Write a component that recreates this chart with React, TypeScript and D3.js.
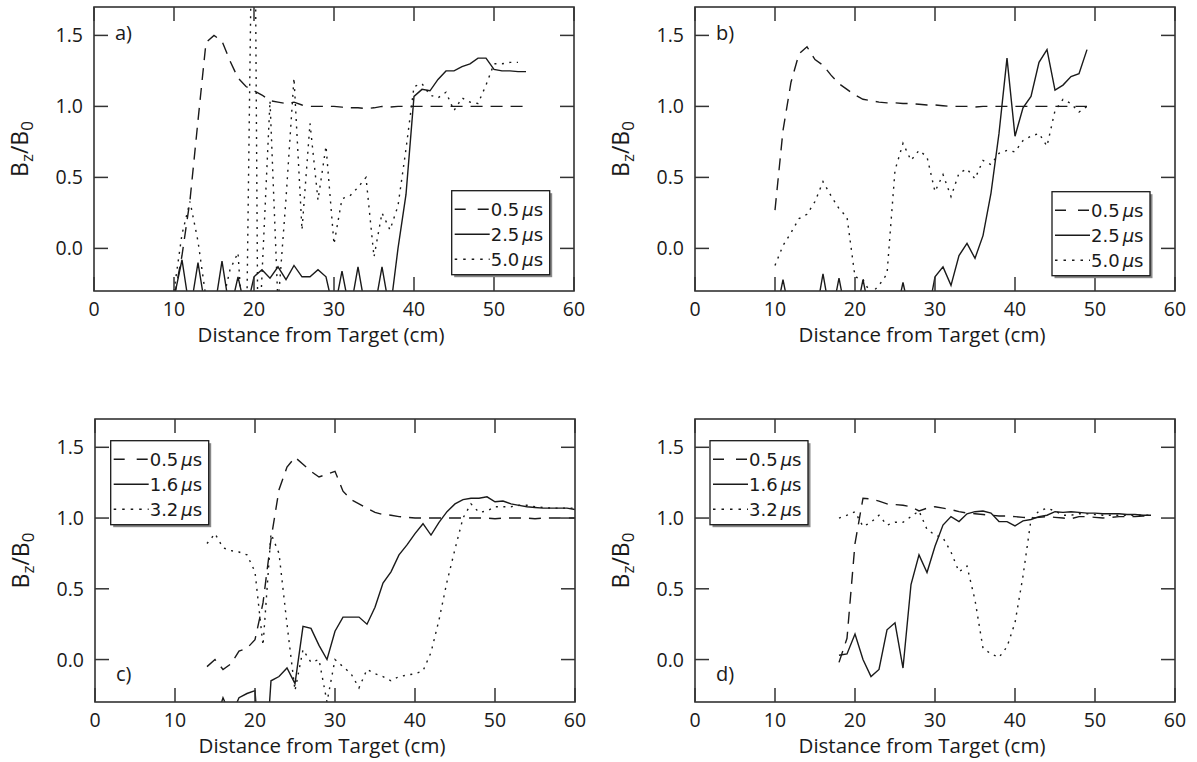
import React from 'react';
import * as d3 from 'd3';

type Pt = [number, number];

// ---------- axes / labels ----------
const xTicks = [0, 10, 20, 30, 40, 50, 60];
const yTicks = [0, 0.5, 1.0, 1.5];
const xDomain: Pt = [0, 60];
const yDomain: Pt = [-0.3, 1.7];
const xTitle = 'Distance from Target (cm)';
const panelLetters = ['a)', 'b)', 'c)', 'd)'];
const legendTimesTop = ['0.5', '2.5', '5.0'];
const legendTimesBottom = ['0.5', '1.6', '3.2'];

// ---------- panel a ----------
const a05: Pt[] = [
  [10, -0.35], [11, -0.05], [12, 0.34], [13, 0.9], [14, 1.45], [15, 1.5], [16, 1.46], [17, 1.32],
  [18, 1.2], [19, 1.14], [20, 1.11], [21, 1.08], [22, 1.04], [23, 1.03], [24, 1.02], [25, 1.03],
  [26, 1.01], [27, 1.0], [28, 1.0], [29, 1.0], [30, 1.0], [31, 0.995], [32, 0.99], [33, 0.99],
  [34, 0.985], [35, 0.99], [36, 1.0], [37, 0.995], [38, 1.0], [39, 1.0], [40, 1.0], [41, 1.0],
  [42, 1.0], [43, 1.0], [44, 1.0], [45, 1.0], [46, 1.0], [47, 1.0], [48, 1.0], [49, 1.0],
  [50, 1.0], [51, 1.0], [52, 1.0], [53, 1.0], [54, 1.0],
];
const a25: Pt[] = [
  [10, -0.35], [11, -0.08], [12, -0.45], [13, -0.1], [14, -0.45], [15, -0.45], [16, -0.09],
  [17, -0.45], [18, -0.2], [19, -0.45], [20, -0.2], [21, -0.15], [22, -0.21], [23, -0.13],
  [24, -0.22], [25, -0.12], [26, -0.2], [27, -0.2], [28, -0.15], [29, -0.2], [30, -0.45],
  [31, -0.16], [32, -0.45], [33, -0.13], [34, -0.45], [35, -0.45], [36, -0.13], [37, -0.45],
  [38, 0.0], [39, 0.38], [40, 1.07], [41, 1.12], [42, 1.11], [43, 1.19], [44, 1.25], [45, 1.25],
  [46, 1.28], [47, 1.3], [48, 1.34], [49, 1.34], [50, 1.26], [51, 1.25], [52, 1.25], [53, 1.245],
  [54, 1.245],
];
const a50: Pt[] = [
  [10, -0.3], [11, 0.1], [12, 0.33], [13, 0.05], [14, -0.35], [15, -0.5], [16, -0.4], [17, -0.15],
  [18, -0.03], [19, -0.9], [20, 3.5], [20.5, -0.8], [22, 1.04], [23, -0.4], [24, 0.35], [25, 1.2],
  [26, 0.13], [27, 0.88], [28, 0.34], [29, 0.72], [30, 0.03], [31, 0.35], [32, 0.37], [33, 0.43],
  [34, 0.5], [35, -0.06], [36, 0.25], [37, 0.13], [38, 0.3], [39, 0.7], [40, 1.14], [41, 1.16],
  [42, 1.08], [43, 1.06], [44, 1.1], [45, 0.97], [46, 1.06], [47, 1.03], [48, 1.02], [49, 1.15],
  [50, 1.3], [51, 1.3], [52, 1.31], [53, 1.31],
];

// ---------- panel b ----------
const b05: Pt[] = [
  [10, 0.27], [11, 0.83], [12, 1.17], [13, 1.37], [14, 1.42], [15, 1.33], [16, 1.29], [17, 1.22],
  [18, 1.16], [19, 1.12], [20, 1.08], [21, 1.05], [22, 1.04], [23, 1.03], [24, 1.025], [25, 1.025],
  [26, 1.02], [27, 1.02], [28, 1.015], [29, 1.01], [30, 1.01], [31, 1.005], [32, 1.0], [33, 1.0],
  [34, 1.0], [35, 0.995], [36, 1.0], [37, 1.0], [38, 1.0], [39, 1.0], [40, 1.0], [41, 1.0],
  [42, 1.0], [43, 1.0], [44, 1.0], [45, 1.0], [46, 1.0], [47, 1.0], [48, 1.0], [49, 1.0],
];
const b25: Pt[] = [
  [10, -0.5], [11, -0.22], [12, -0.5], [13, -0.5], [14, -0.5], [15, -0.5], [16, -0.18], [17, -0.5],
  [18, -0.21], [19, -0.5], [20, -0.5], [21, -0.22], [22, -0.5], [23, -0.5], [24, -0.5], [25, -0.5],
  [26, -0.24], [27, -0.5], [28, -0.5], [29, -0.5], [30, -0.2], [31, -0.13], [32, -0.26], [33, -0.05],
  [34, 0.035], [35, -0.07], [36, 0.09], [37, 0.39], [38, 0.81], [39, 1.34], [40, 0.79], [41, 0.99],
  [42, 1.07], [43, 1.31], [44, 1.4], [45, 1.115], [46, 1.15], [47, 1.21], [48, 1.23], [49, 1.4],
];
const b50: Pt[] = [
  [10, -0.12], [11, 0.02], [12, 0.11], [13, 0.21], [14, 0.24], [15, 0.33], [16, 0.47], [17, 0.37],
  [18, 0.28], [19, 0.22], [20, -0.2], [21, -0.22], [22, -0.32], [23, -0.26], [24, -0.18], [25, 0.55],
  [26, 0.74], [27, 0.62], [28, 0.69], [29, 0.645], [30, 0.4], [31, 0.52], [32, 0.365], [33, 0.53],
  [34, 0.56], [35, 0.49], [36, 0.62], [37, 0.59], [38, 0.67], [39, 0.69], [40, 0.68], [41, 0.76],
  [42, 0.79], [43, 0.81], [44, 0.72], [45, 0.97], [46, 1.05], [47, 1.02], [48, 0.96], [49, 1.0],
];

// ---------- panel c ----------
const c05: Pt[] = [
  [14, -0.05], [15, 0.0], [16, -0.07], [17, -0.03], [18, 0.06], [19, 0.08], [20, 0.14], [21, 0.4],
  [22, 0.85], [23, 1.2], [24, 1.36], [25, 1.43], [26, 1.38], [27, 1.33], [28, 1.29], [29, 1.31],
  [30, 1.33], [31, 1.19], [32, 1.13], [33, 1.1], [34, 1.07], [35, 1.04], [36, 1.025], [37, 1.02],
  [38, 1.01], [39, 1.005], [40, 1.0], [41, 1.0], [42, 1.0], [43, 1.0], [44, 1.0], [45, 1.0],
  [46, 1.0], [47, 1.0], [48, 1.0], [49, 1.0], [50, 0.995], [51, 1.0], [52, 1.0], [53, 1.0],
  [54, 1.0], [55, 0.995], [56, 1.0], [57, 1.0], [58, 1.0], [59, 1.0], [60, 1.0],
];
const c16: Pt[] = [
  [14, -0.5], [15, -0.45], [16, -0.27], [17, -0.4], [18, -0.27], [19, -0.24], [20, -0.22], [21, -1.0],
  [22, -0.15], [23, -0.12], [24, -0.06], [25, -0.17], [26, 0.235], [27, 0.22], [28, 0.1], [29, 0.0],
  [30, 0.2], [31, 0.3], [32, 0.3], [33, 0.3], [34, 0.25], [35, 0.37], [36, 0.54], [37, 0.62],
  [38, 0.74], [39, 0.81], [40, 0.89], [41, 0.96], [42, 0.88], [43, 0.97], [44, 1.045], [45, 1.1],
  [46, 1.13], [47, 1.14], [48, 1.14], [49, 1.15], [50, 1.115], [51, 1.12], [52, 1.1], [53, 1.09],
  [54, 1.08], [55, 1.075], [56, 1.07], [57, 1.07], [58, 1.07], [59, 1.07], [60, 1.06],
];
const c32: Pt[] = [
  [14, 0.82], [15, 0.89], [16, 0.79], [17, 0.77], [18, 0.76], [19, 0.74], [20, 0.62], [21, 0.1],
  [22, 0.89], [23, 0.75], [24, 0.25], [25, -0.22], [26, 0.07], [27, -0.02], [28, 0.0], [29, -0.3],
  [30, 0.0], [31, -0.05], [32, -0.1], [33, -0.2], [34, -0.07], [35, -0.1], [36, -0.12], [37, -0.15],
  [38, -0.12], [39, -0.11], [40, -0.1], [41, -0.08], [42, 0.05], [43, 0.28], [44, 0.55], [45, 0.78],
  [46, 1.0], [47, 1.1], [48, 1.04], [49, 1.05], [50, 1.08], [51, 1.08], [52, 1.08], [53, 1.09],
  [54, 1.09], [55, 1.08], [56, 1.075], [57, 1.07], [58, 1.07], [59, 1.07], [60, 1.07],
];

// ---------- panel d ----------
const d05: Pt[] = [
  [18, -0.02], [19, 0.15], [20, 0.82], [21, 1.14], [22, 1.135], [23, 1.12], [24, 1.1], [25, 1.095],
  [26, 1.09], [27, 1.08], [28, 1.05], [29, 1.07], [30, 1.08], [31, 1.07], [32, 1.06], [33, 1.045],
  [34, 1.035], [35, 1.03], [36, 1.025], [37, 1.02], [38, 1.015], [39, 1.015], [40, 1.01], [41, 1.005],
  [42, 1.0], [43, 1.005], [44, 1.01], [45, 1.005], [46, 1.0], [47, 0.995], [48, 1.01], [49, 1.01],
  [50, 1.005], [51, 1.0], [52, 1.005], [53, 1.01], [54, 1.01], [55, 1.01], [56, 1.015], [57, 1.015],
];
const d16: Pt[] = [
  [18, 0.03], [19, 0.04], [20, 0.18], [21, 0.0], [22, -0.12], [23, -0.07], [24, 0.21], [25, 0.26],
  [26, -0.06], [27, 0.53], [28, 0.74], [29, 0.615], [30, 0.8], [31, 0.95], [32, 1.01], [33, 0.975],
  [34, 1.03], [35, 1.045], [36, 1.05], [37, 1.035], [38, 0.975], [39, 0.975], [40, 0.945], [41, 0.98],
  [42, 0.99], [43, 1.01], [44, 1.02], [45, 1.045], [46, 1.04], [47, 1.045], [48, 1.04], [49, 1.035],
  [50, 1.035], [51, 1.03], [52, 1.03], [53, 1.03], [54, 1.025], [55, 1.025], [56, 1.02], [57, 1.02],
];
const d32: Pt[] = [
  [18, 1.0], [19, 1.02], [20, 1.045], [21, 0.94], [22, 0.97], [23, 1.02], [24, 0.95], [25, 0.97],
  [26, 0.97], [27, 1.01], [28, 1.05], [29, 0.92], [30, 0.88], [31, 0.86], [32, 0.76], [33, 0.62],
  [34, 0.66], [35, 0.42], [36, 0.08], [37, 0.04], [38, 0.015], [39, 0.09], [40, 0.26], [41, 0.59],
  [42, 0.99], [43, 1.05], [44, 1.07], [45, 1.05], [46, 1.02], [47, 1.02], [48, 1.03], [49, 1.03],
  [50, 1.025], [51, 1.02], [52, 1.02], [53, 1.02], [54, 1.02], [55, 1.02], [56, 1.02], [57, 1.02],
];

const panelSeries: Pt[][][] = [
  [a05, a25, a50],
  [b05, b25, b50],
  [c05, c16, c32],
  [d05, d16, d32],
];
const panelLegendTimes = [legendTimesTop, legendTimesTop, legendTimesBottom, legendTimesBottom];

// ---------- layout / style ----------
const W = 1197;
const H = 762;
const PW = 480;
const layouts = [
  { left: 94, top: 7, bottom: 291, lgX: 357.7, lgY: 183.7, letterDy: 33 },
  { left: 695, top: 7, bottom: 291, lgX: 357, lgY: 184.7, letterDy: 33 },
  { left: 95, top: 419, bottom: 702, lgX: 15.7, lgY: 21.7, letterDy: -21 },
  { left: 695, top: 419, bottom: 702, lgX: 15, lgY: 21.7, letterDy: -21 },
];
const dashes = ['12,8', 'none', '2,5.5'];
const legendDashes = ['11,12', 'none', '2.5,6'];
const axisFont = "'Open Sans', 'Noto Sans', sans-serif";
const legendFont = "'DejaVu Sans', Verdana, sans-serif";
const ink = '#1a1a1a';
const frame = '#333';

function Panel({ idx }: { idx: number }) {
  const L = layouts[idx];
  const x = d3.scaleLinear().domain(xDomain).range([L.left, L.left + PW]);
  const y = d3.scaleLinear().domain(yDomain).range([L.bottom, L.top]);
  const line = d3
    .line<Pt>()
    .x((d) => x(d[0]))
    .y((d) => y(d[1]));
  const clipId = `clip-${idx}`;
  const tickLen = 14;
  const lgX = L.left + L.lgX;
  const lgY = L.top + L.lgY;
  const lgW = 98;
  const lgH = 84;
  const letterY = L.letterDy > 0 ? L.top + L.letterDy : L.bottom + L.letterDy;
  const midY = (L.top + L.bottom) / 2;
  return (
    <g>
      <defs>
        <clipPath id={clipId}>
          <rect x={L.left} y={L.top} width={PW} height={L.bottom - L.top} />
        </clipPath>
      </defs>
      {/* data lines */}
      <g clipPath={`url(#${clipId})`}>
        {panelSeries[idx].map((s, i) => (
          <path
            key={i}
            d={line(s) || ''}
            fill="none"
            stroke={ink}
            strokeWidth={1.4}
            strokeDasharray={dashes[i]}
            strokeLinejoin="miter"
          />
        ))}
      </g>
      {/* ticks on all four sides */}
      {xTicks.map((t) => (
        <g key={`xt${t}`} stroke={frame} strokeWidth={1.5}>
          <line x1={x(t)} x2={x(t)} y1={L.bottom} y2={L.bottom - tickLen} />
          <line x1={x(t)} x2={x(t)} y1={L.top} y2={L.top + tickLen} />
        </g>
      ))}
      {yTicks.map((t) => (
        <g key={`yt${t}`} stroke={frame} strokeWidth={1.5}>
          <line x1={L.left} x2={L.left + tickLen} y1={y(t)} y2={y(t)} />
          <line x1={L.left + PW} x2={L.left + PW - tickLen} y1={y(t)} y2={y(t)} />
        </g>
      ))}
      <rect x={L.left} y={L.top} width={PW} height={L.bottom - L.top} fill="none" stroke={frame} strokeWidth={1.6} />
      {/* tick labels */}
      {xTicks.map((t) => (
        <text key={`xl${t}`} x={x(t)} y={L.bottom + 25} textAnchor="middle" fontFamily={axisFont} fontSize={19.5} fill={ink}>
          {d3.format('d')(t)}
        </text>
      ))}
      {yTicks.map((t) => (
        <text key={`yl${t}`} x={L.left - 11} y={y(t) + 7} textAnchor="end" fontFamily={axisFont} fontSize={19.5} fill={ink}>
          {d3.format('.1f')(t)}
        </text>
      ))}
      {/* axis titles */}
      <text x={L.left + 227} y={L.bottom + 51} textAnchor="middle" fontFamily={axisFont} fontSize={20.5} fill={ink}>
        {xTitle}
      </text>
      <text
        transform={`translate(${L.left - 66},${midY}) rotate(-90)`}
        textAnchor="middle"
        fontFamily={axisFont}
        fontSize={23}
        fill={ink}
      >
        B<tspan fontSize={17} dy={5}>z</tspan>
        <tspan dy={-5}>/B</tspan>
        <tspan fontSize={17} dy={5}>0</tspan>
      </text>
      {/* panel letter */}
      <text x={L.left + 21} y={letterY} fontFamily={axisFont} fontSize={20} fill={ink}>
        {panelLetters[idx]}
      </text>
      {/* legend */}
      <rect x={lgX + 2.5} y={lgY + 2.5} width={lgW} height={lgH} fill="#888" />
      <rect x={lgX} y={lgY} width={lgW} height={lgH} fill="#fff" stroke={ink} strokeWidth={1.3} />
      {panelLegendTimes[idx].map((lab, i) => {
        const ry = lgY + 18.5 + i * 25;
        return (
          <g key={`lg${i}`}>
            <line
              x1={lgX + 3}
              x2={lgX + 38}
              y1={ry}
              y2={ry}
              stroke={ink}
              strokeWidth={1.4}
              strokeDasharray={legendDashes[i]}
            />
            <text x={lgX + 39} y={ry + 6.5} fontFamily={legendFont} fontSize={18} fill={ink}>
              {lab}
              <tspan dx={3} fontStyle="italic">μ</tspan>
              <tspan>s</tspan>
            </text>
          </g>
        );
      })}
    </g>
  );
}

export default function App() {
  return (
    <svg
      width={W}
      height={H}
      viewBox={`0 0 ${W} ${H}`}
      style={{ position: 'absolute', left: 0, top: 0, background: '#fff' }}
    >
      <rect width={W} height={H} fill="#fff" />
      {layouts.map((_, i) => (
        <Panel key={i} idx={i} />
      ))}
    </svg>
  );
}
